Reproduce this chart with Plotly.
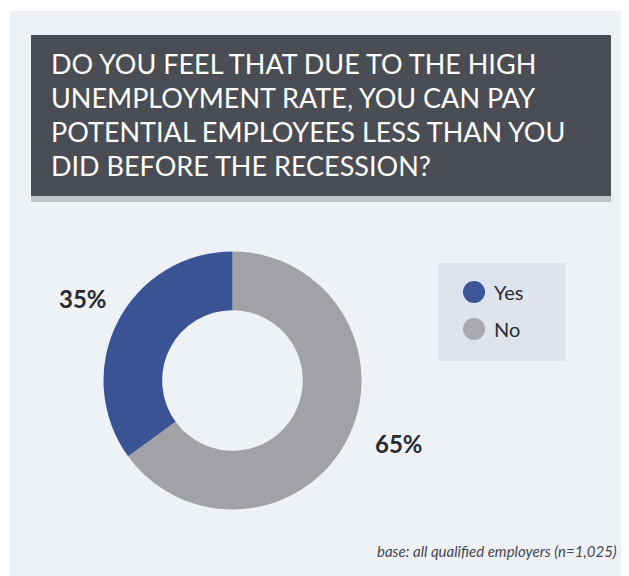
import plotly.graph_objects as go

# The page body adds an 8px margin, so the figure is drawn 8px smaller and
# every reference pixel position is shifted by that offset.
OFF = 8
W, H = 629 - OFF, 576 - OFF

categories = ["Yes", "No"]
values = [35, 65]
colors = ["#3a5394", "#a1a2a5"]
legend_colors = ["#3d5599", "#a9aaad"]

title_lines = [
    "DO YOU FEEL THAT DUE TO THE HIGH",
    "UNEMPLOYMENT RATE, YOU CAN PAY",
    "POTENTIAL EMPLOYEES LESS THAN YOU",
    "DID BEFORE THE RECESSION?",
]
footnote = "base: all qualified employers (n=1,025)"


def px(x):
    return (x - OFF) / W


def py(y):
    return 1 - (y - OFF) / H


fig = go.Figure()

cx, cy, r = 232.5, 380.5, 129
fig.add_trace(go.Pie(
    labels=categories[::-1],
    values=values[::-1],
    hole=0.545,
    sort=False,
    direction="clockwise",
    rotation=0,
    marker=dict(colors=colors[::-1], line=dict(width=0)),
    textinfo="none",
    hoverinfo="label+percent",
    showlegend=False,
    domain=dict(x=[px(cx - r), px(cx + r)], y=[py(cy + r), py(cy - r)]),
))

shapes = [
    dict(type="rect", xref="paper", yref="paper", x0=px(10), x1=1, y0=0, y1=py(11),
         fillcolor="#eef1f6", line=dict(width=0), layer="below"),
    dict(type="rect", xref="paper", yref="paper", x0=px(31), x1=px(611), y0=py(202), y1=py(196),
         fillcolor="#c3c4c6", line=dict(width=0), layer="below"),
    dict(type="rect", xref="paper", yref="paper", x0=px(31), x1=px(611), y0=py(196), y1=py(35),
         fillcolor="#4a4e54", line=dict(width=0), layer="below"),
    dict(type="rect", xref="paper", yref="paper", x0=px(438), x1=px(565), y0=py(361), y1=py(263),
         fillcolor="#dfe3ee", line=dict(width=0), layer="below"),
]

annotations = []
for i, line in enumerate(title_lines):
    annotations.append(dict(
        text=line, xref="paper", yref="paper", x=px(49), y=py(63 + 34 * i),
        xanchor="left", yanchor="middle", showarrow=False,
        font=dict(family="Lato", size=27, color="#ffffff"),
    ))

for i, (cat, col) in enumerate(zip(categories, legend_colors)):
    ly = 292 + 37 * i
    shapes.append(dict(type="circle", xref="paper", yref="paper",
                       x0=px(463), x1=px(485), y0=py(ly + 11), y1=py(ly - 11),
                       fillcolor=col, line=dict(width=0)))
    annotations.append(dict(
        text=cat, xref="paper", yref="paper", x=px(492), y=py(ly),
        xanchor="left", yanchor="middle", showarrow=False,
        font=dict(family="Lato", size=20, color="#2b2e35"),
    ))

total = sum(values)
label_pos = [(83, 298), (399, 443)]
for v, (lx, ly) in zip(values, label_pos):
    annotations.append(dict(
        text=f"<b>{round(100 * v / total)}%</b>", xref="paper", yref="paper",
        x=px(lx), y=py(ly), xanchor="center", yanchor="middle", showarrow=False,
        font=dict(family="Lato", size=24, color="#262a31"),
    ))

annotations.append(dict(
    text=f"<i>{footnote}</i>", xref="paper", yref="paper", x=px(619), y=py(551),
    xanchor="right", yanchor="middle", showarrow=False,
    font=dict(family="Lato", size=15, color="#45484e"),
))

fig.update_layout(
    width=W, height=H,
    margin=dict(l=0, r=0, t=0, b=0),
    paper_bgcolor="#ffffff",
    plot_bgcolor="#ffffff",
    shapes=shapes,
    annotations=annotations,
)

fig.write_html("out.html")
